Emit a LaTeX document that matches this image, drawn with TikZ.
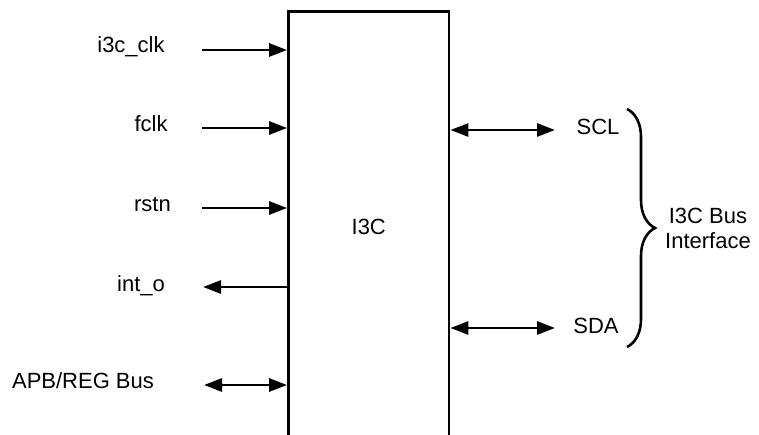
\documentclass[tikz,border=0pt]{standalone}
\usepackage{fontspec}
\setmainfont{Liberation Sans}
\usetikzlibrary{arrows.meta,decorations.pathreplacing}

\begin{document}
\begin{tikzpicture}[x=1pt,y=-1pt,
    blk/.style={draw,line width=2.8pt,minimum width=160.5pt,minimum height=432pt,anchor=north,font=\fontsize{22}{25}\selectfont},
    lbl/.style={inner sep=0pt,anchor=base,font=\fontsize{22}{25}\selectfont},
    sig/.style={line width=2.8pt,-{Triangle[length=18pt,width=13pt]}},
    bus/.style={line width=2.8pt,{Triangle[length=18pt,width=13pt]}-{Triangle[length=18pt,width=13pt]}}
  ]
    \clip (0,0) rectangle (759,435);
    \node[blk] (ip) at (368.75,10) {I3C};
    % left side
    \node[lbl] (clk) at (131,53) {i3c\_clk};
    \node[lbl] (fclk) at (151,132) {fclk};
    \node[lbl] (rstn) at (152.5,212) {rstn};
    \node[lbl] (irq) at (141,291) {int\_o};
    \node[lbl] (apb) at (83,388) {APB/REG Bus};
    \coordinate (clkin) at (202,50);
    \coordinate (fclkin) at (202,128);
    \coordinate (rstnin) at (202,208);
    \coordinate (irqout) at (203,287);
    \coordinate (apbend) at (204,385);
    \draw[sig] (clkin) -- (clkin -| ip.west);
    \draw[sig] (fclkin) -- (fclkin -| ip.west);
    \draw[sig] (rstnin) -- (rstnin -| ip.west);
    \draw[sig] (irqout -| ip.west) -- (irqout);
    \draw[bus] (apbend) -- (apbend -| ip.west);
    % right side
    \node[lbl] (scl) at (598,135) {SCL};
    \node[lbl] (sda) at (596,333) {SDA};
    \coordinate (sclend) at (555,130);
    \coordinate (sdaend) at (555,328);
    \draw[bus] (sclend -| ip.east) -- (sclend);
    \draw[bus] (sdaend -| ip.east) -- (sdaend);
    \coordinate (bt) at (627,109);
    \coordinate (bb) at (627,347);
    \draw[line width=2.6pt,decorate,decoration={brace,amplitude=28pt}] (bt) -- (bb);
    \node[align=center,inner sep=0pt,font=\fontsize{22}{25}\selectfont] (ifc) at (708,228) {I3C Bus\\Interface};
\end{tikzpicture}
\end{document}
